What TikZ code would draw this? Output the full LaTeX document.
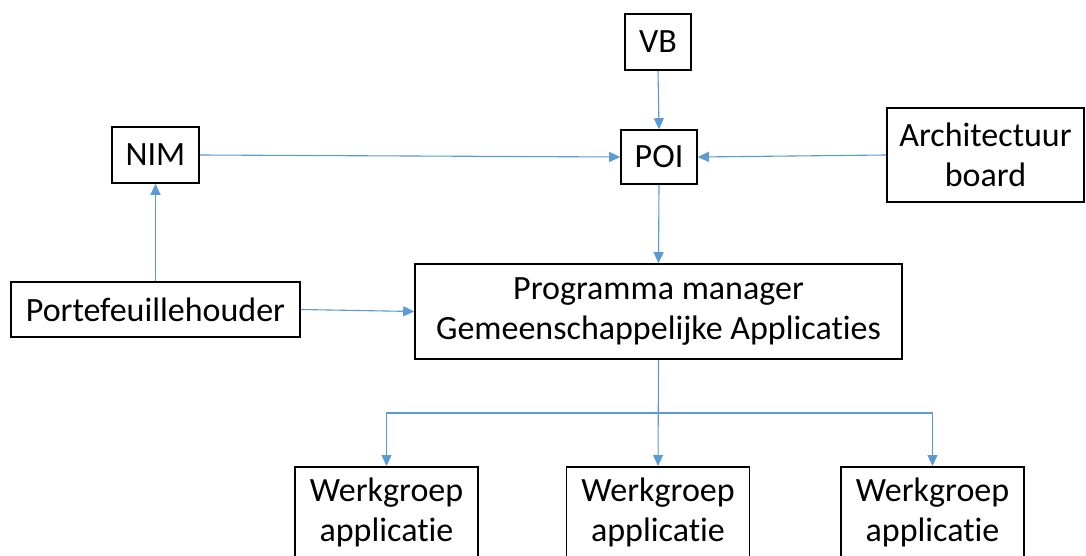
\documentclass[tikz,border=0pt]{standalone}
\usepackage{fontspec}
\setmainfont[Ligatures=NoCommon]{Carlito}
\usetikzlibrary{arrows.meta}
\definecolor{lineblue}{HTML}{5B9BD5}
\begin{document}
\begin{tikzpicture}[x=1pt,y=-1pt,
  box/.style={draw=black,line width=1.6pt,inner sep=0pt,align=center,
    font=\fontsize{34}{40}\selectfont,text=black},
  wbox/.style={box,anchor=north,minimum width=183pt,inner ysep=11pt,text depth=80pt},
  arr/.style={draw=lineblue,line width=1.1pt,-{Triangle[length=11pt,width=10pt]}}]
\useasboundingbox (0,0) rectangle (1086,556);
\clip (0,0) rectangle (1086,556);
\fill[white] (0,0) rectangle (1086,556);
\node[box,minimum width=66pt,minimum height=56pt] (VB) at (658,42) {VB};
\node[box,minimum width=76pt,minimum height=54pt] (POI) at (659,157) {POI};
\node[box,minimum width=87pt,minimum height=56pt] (NIM) at (155.5,155) {NIM};
\node[box,minimum width=197pt,minimum height=94pt] (Arch) at (985.5,155) {Architectuur\\board};
\node[box,minimum width=289pt,minimum height=55pt] (Port) at (155.5,309.5) {Portefeuillehouder};
\node[box,minimum width=487pt,minimum height=95pt] (Prog) at (658.5,311.5) {Programma manager\\Gemeenschappelijke Applicaties};
\node[wbox] (W1) at (386.5,466) {Werkgroep\\applicatie};
\node[wbox] (W2) at (658,466) {Werkgroep\\applicatie};
\node[wbox] (W3) at (932.5,466) {Werkgroep\\applicatie};
\draw[arr] (VB.south) -- (POI.north);
\draw[arr] (NIM.east) -- (POI.west);
\draw[arr] (Arch.west) -- (POI.east);
\draw[arr] (POI.south) -- (Prog.north);
\draw[arr] (Port.east) -- (Prog.west);
\draw[arr] (Port.north) -- (NIM.south);
\draw[arr] (Prog.south) -- (W2.north);
\draw[arr] (Prog.south) |- ([yshift=53pt]W1.north) -- (W1.north);
\draw[arr] (Prog.south) |- ([yshift=53pt]W3.north) -- (W3.north);
\end{tikzpicture}
\end{document}
